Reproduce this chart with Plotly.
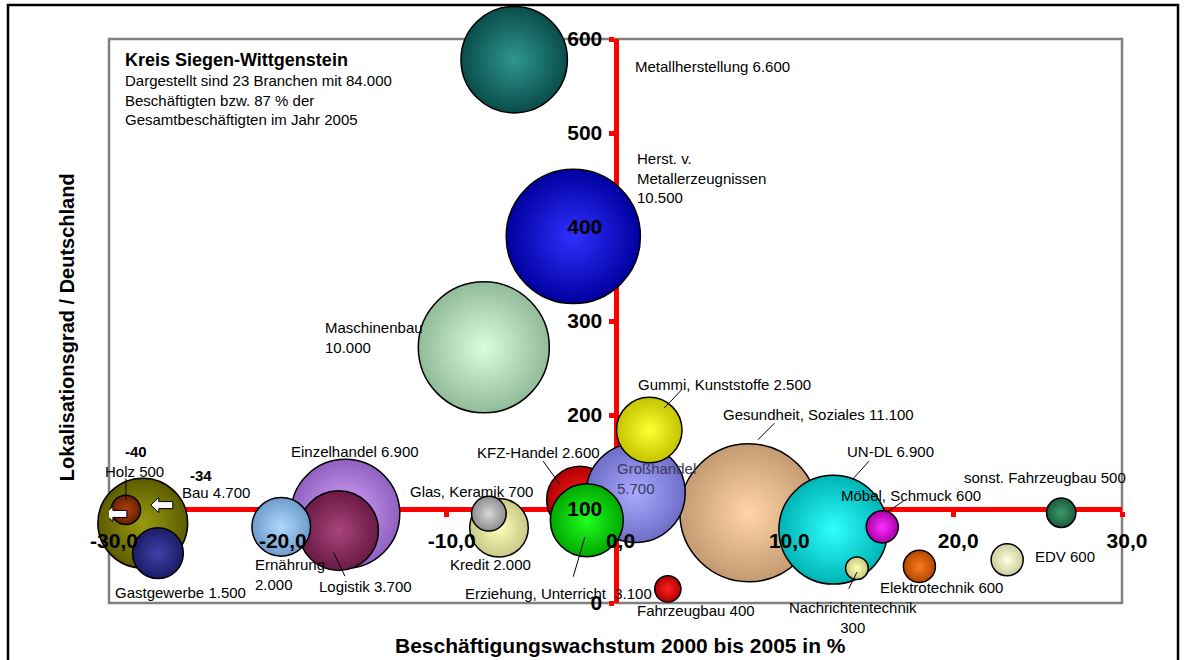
import plotly.graph_objects as go

# Branchen im Kreis Siegen-Wittgenstein (in Zeichenreihenfolge)
BRANCHEN = [
    "Maschinenbau", "Herst. v. Metallerzeugnissen", "Metallherstellung",
    "Gesundheit, Soziales", "KFZ-Handel", "Großhandel", "Gummi, Kunststoffe",
    "Erziehung, Unterricht", "UN-DL", "Möbel, Schmuck", "Nachrichtentechnik",
    "Fahrzeugbau", "Elektrotechnik", "EDV", "sonst. Fahrzeugbau",
    "Einzelhandel", "Logistik", "Ernährung", "Kredit", "Glas, Keramik",
    "Bau", "Holz", "Gastgewerbe",
]
# Beschäftigungswachstum 2000 bis 2005 in %
WACHSTUM = [
    -7.8, -2.5, -6.0,
    7.9, -2.1, 1.2, 2.0,
    -1.7, 12.9, 15.8, 14.3,
    3.1, 18.0, 23.2, 26.4,
    -16.0, -16.4, -19.8, -6.9, -7.5,
    -28.0, -29.0, -27.1,
]
# Lokalisationsgrad / Deutschland
LOKALISATION = [
    272, 390, 578,
    96, 110, 117, 184,
    88, 78, 81, 37,
    15, 39, 46, 96,
    95, 77, 81, 80, 95,
    85, 99, 53,
]
# Beschäftigte 2005
BESCHAEFTIGTE = [
    10000, 10500, 6600,
    11100, 2600, 5700, 2500,
    3100, 6900, 600, 300,
    400, 600, 600, 500,
    6900, 3700, 2000, 2000, 700,
    4700, 500, 1500,
]
# tatsächliches Wachstum der am linken Rand abgetragenen Branchen
AUSSERHALB = {"Bau": -34, "Holz": -40}

X_TICKS = [-30, -20, -10, 0, 10, 20, 30]
X_TICKTEXT = ["-30,0", "-20,0", "-10,0", "0,0", "10,0", "20,0", "30,0"]
Y_TICKS = [0, 100, 200, 300, 400, 500, 600]

# Kugelfarben: (Rand, Mitte)
FARBEN = {
    "Maschinenbau": ("#92bb9a", "#d8ffdc"),
    "Herst. v. Metallerzeugnissen": ("#0000a0", "#3030ff"),
    "Metallherstellung": ("#0a4d4a", "#2f9690"),
    "Gesundheit, Soziales": ("#c49a72", "#ffd6a8"),
    "KFZ-Handel": ("#b00000", "#ff2020"),
    "Großhandel": ("#6e6ec8", "#aaaaff"),
    "Gummi, Kunststoffe": ("#c4c400", "#ffff30"),
    "Erziehung, Unterricht": ("#00a800", "#20ff20"),
    "UN-DL": ("#00b4b4", "#30ffff"),
    "Möbel, Schmuck": ("#a800a8", "#ff30ff"),
    "Nachrichtentechnik": ("#c8c880", "#ffffb0"),
    "Fahrzeugbau": ("#b00000", "#ff2020"),
    "Elektrotechnik": ("#b04800", "#ff7a20"),
    "EDV": ("#cccca0", "#ffffdd"),
    "sonst. Fahrzeugbau": ("#1a5c3c", "#3c9a6a"),
    "Einzelhandel": ("#9060c0", "#d8a8ff"),
    "Logistik": ("#6a1a45", "#a8447a"),
    "Ernährung": ("#6e9ccc", "#b0d8ff"),
    "Kredit": ("#c8c888", "#ffffb8"),
    "Glas, Keramik": ("#8c8c8c", "#d8d8d8"),
    "Bau": ("#5c5c00", "#9a9a10"),
    "Holz": ("#6a2000", "#b04010"),
    "Gastgewerbe": ("#1c1c68", "#4040a8"),
}

# Beschriftung: (Vorlage, dx, dy in px relativ zur Kugelmitte, xanchor)
BESCHRIFTUNG = {
    "Maschinenbau": ("{n}<br>{e}", -161, -10, "left"),
    "Herst. v. Metallerzeugnissen": ("Herst. v.<br>Metallerzeugnissen<br>{e}", 62, -58, "left"),
    "Metallherstellung": ("{n} {e}", 119, 7, "left"),
    "Gesundheit, Soziales": ("{n} {e}", -28, -98, "left"),
    "KFZ-Handel": ("{n} {e}", -105, -47, "left"),
    "Großhandel": ("{n}<br>{e}", -21, -15, "left"),
    "Gummi, Kunststoffe": ("{n} {e}", -13, -46, "left"),
    "Erziehung, Unterricht": ("{n}\u00a0\u00a0{e}", -124, 73, "left"),
    "UN-DL": ("{n} {e}", 12, -78, "left"),
    "Möbel, Schmuck": ("{n} {e}", -43, -31, "left"),
    "Nachrichtentechnik": ("{n}<br>{e}", -4, 49, "center"),
    "Fahrzeugbau": ("{n} {e}", -33, 22, "left"),
    "Elektrotechnik": ("{n} {e}", -41, 21, "left"),
    "EDV": ("{n} {e}", 26, -3, "left"),
    "sonst. Fahrzeugbau": ("{n} {e}", -99, -35, "left"),
    "Einzelhandel": ("{n} {e}", -56, -62, "left"),
    "Logistik": ("{n} {e}", -22, 56, "left"),
    "Ernährung": ("{n}<br>{e}", -28, 48, "left"),
    "Kredit": ("{n} {e}", -51, 37, "left"),
    "Glas, Keramik": ("{n} {e}", -81, -22, "left"),
    "Bau": ("{n} {e}", 37, -31, "left"),
    "Holz": ("{n} {e}", -23, -38, "left"),
    "Gastgewerbe": ("{n} {e}", -45, 39, "left"),
}
# Führungslinien: Spitze (dx, dy) zur Kugelmitte, Ende (dx, dy) zur Spitze
LINIEN = {
    "Gummi, Kunststoffe": (15, -22, 19, -20),
    "Gesundheit, Soziales": (9, -73, 18, -18),
    "KFZ-Handel": (-20, -15, -18, -25),
    "Erziehung, Unterricht": (-2, 17, -12, 41),
    "UN-DL": (19, -50, 18, -20),
    "Möbel, Schmuck": (5, -15, 18, -12),
    "Nachrichtentechnik": (0, 4, -9, 18),
    "Logistik": (-5, 22, 12, 25),
    "Holz": (0, -10, 0, -23),
}
# Lage der Randwerte und Pfeile (px relativ zur Kugelmitte)
RANDWERT_POS = {"Bau": (45, -48), "Holz": (-3, -58)}
PFEIL_POS = {"Bau": (19, -18), "Holz": (-10, 4)}
PFEIL = [(-11, 0), (-3, 7.5), (-3, 3.5), (11, 3.5), (11, -3.5), (-3, -3.5), (-3, -7.5)]

FONT = "Liberation Sans, Arial, sans-serif"


def tsd(v):
    return f"{v:,}".replace(",", ".")


fig = go.Figure()
fig.add_trace(go.Scatter(
    x=WACHSTUM, y=LOKALISATION, mode="markers", cliponaxis=False,
    hoverinfo="skip", showlegend=False,
    marker=dict(
        size=BESCHAEFTIGTE, sizemode="area", sizeref=1.1656,
        color=[FARBEN[b][0] for b in BRANCHEN],
        gradient=dict(type="radial", color=[FARBEN[b][1] for b in BRANCHEN]),
        line=dict(color="black", width=1.5), opacity=1,
    ),
))
# leere Spur für die Beschriftungsachsen über den Kugeln
fig.add_trace(go.Scatter(x=[], y=[], xaxis="x2", yaxis="y2", showlegend=False))

ann = []
for i, b in enumerate(BRANCHEN):
    vorlage, dx, dy, anchor = BESCHRIFTUNG[b]
    farbe = "#3a3a5a" if b == "Großhandel" else "black"
    ann.append(dict(
        x=WACHSTUM[i], y=LOKALISATION[i], xshift=dx, yshift=-dy,
        text=vorlage.format(n=b, e=tsd(BESCHAEFTIGTE[i])),
        showarrow=False, xanchor=anchor, yanchor="middle", align=anchor,
        font=dict(family=FONT, size=15, color=farbe),
    ))
    if b in LINIEN:
        tx, ty, ex, ey = LINIEN[b]
        ann.append(dict(
            x=WACHSTUM[i], y=LOKALISATION[i], xshift=tx, yshift=-ty,
            text="", showarrow=True, arrowhead=0, arrowwidth=1,
            arrowcolor="black", ax=ex, ay=ey, standoff=0,
        ))
    if b in AUSSERHALB:
        dx, dy = RANDWERT_POS[b]
        ann.append(dict(
            x=WACHSTUM[i], y=LOKALISATION[i], xshift=dx, yshift=-dy,
            text=f"<b>{AUSSERHALB[b]}</b>", showarrow=False,
            xanchor="left", yanchor="middle",
            font=dict(family=FONT, size=15, color="black"),
        ))

shapes = [
    # grauer Rahmen der Zeichenfläche
    dict(type="rect", xref="paper", yref="paper", x0=0, x1=1, y0=0, y1=1,
         line=dict(color="#808080", width=2.5), layer="below"),
    # schwarzer Außenrahmen
    dict(type="rect", xref="paper", yref="paper", x0=-0.0997, x1=1.0553,
         y0=-0.3, y1=1.0603, line=dict(color="black", width=2.5)),
]
for b, (dx, dy) in PFEIL_POS.items():
    i = BRANCHEN.index(b)
    pts = [f"{px + dx},{py - dy}" for px, py in PFEIL]
    shapes.append(dict(
        type="path", xref="x", yref="y", xsizemode="pixel", ysizemode="pixel",
        xanchor=WACHSTUM[i], yanchor=LOKALISATION[i],
        path="M " + " L ".join(pts) + " Z",
        fillcolor="white", line=dict(color="black", width=1),
    ))

ann += [
    dict(xref="paper", yref="paper", x=0.0138, y=0.9628, xanchor="left",
         yanchor="middle", showarrow=False, text="<b>Kreis Siegen-Wittgenstein</b>",
         font=dict(family=FONT, size=18, color="black")),
    dict(xref="paper", yref="paper", x=0.0138, y=0.8918, xanchor="left",
         yanchor="middle", align="left", showarrow=False,
         text="Dargestellt sind 23 Branchen mit 84.000<br>Beschäftigten bzw. 87 % der"
              "<br>Gesamtbeschäftigten im Jahr 2005",
         font=dict(family=FONT, size=15, color="black")),
    dict(xref="paper", yref="paper", x=0.5054, y=-0.0745, showarrow=False,
         xanchor="center", yanchor="middle",
         text="<b>Beschäftigungswachstum 2000 bis 2005 in %</b>",
         font=dict(family=FONT, size=21, color="black")),
    dict(xref="paper", yref="paper", x=-0.0415, y=0.489, showarrow=False,
         xanchor="center", yanchor="middle",
         textangle=-90, text="<b>Lokalisationsgrad / Deutschland</b>",
         font=dict(family=FONT, size=20, color="black")),
]

achse = dict(showgrid=False, zeroline=False, fixedrange=True, anchor="free")
tickfont = dict(family=FONT, size=21, color="black", weight="bold")
unsichtbar = "rgba(0,0,0,0)"
fig.update_layout(
    width=1186, height=660,
    margin=dict(l=109, r=64, t=39, b=57),
    paper_bgcolor="white", plot_bgcolor="white",
    hovermode=False,
    xaxis=dict(**achse, range=[-30, 30], position=1 / 6, layer="below traces",
               showline=True, linecolor="red", linewidth=5,
               ticks="outside", ticklen=5, tickwidth=5, tickcolor="red",
               tickvals=X_TICKS, showticklabels=False),
    yaxis=dict(**achse, range=[0, 600], position=0.5, layer="below traces",
               showline=True, linecolor="red", linewidth=5,
               ticks="outside", ticklen=5, tickwidth=5, tickcolor="red",
               tickvals=Y_TICKS, showticklabels=False),
    xaxis2=dict(**achse, range=[-30, 30], position=1 / 6, overlaying="x",
                layer="above traces", showline=False,
                ticks="outside", ticklen=5, tickcolor=unsichtbar,
                tickvals=X_TICKS, ticktext=X_TICKTEXT, tickfont=tickfont,
                ticklabelstandoff=8, ticklabelshift=5),
    yaxis2=dict(**achse, range=[0, 600], position=0.5, overlaying="y",
                layer="above traces", showline=False,
                ticks="outside", ticklen=5, tickcolor=unsichtbar,
                tickvals=Y_TICKS, tickfont=tickfont, ticklabelstandoff=4),
    annotations=ann,
    shapes=shapes,
)

# Seitenrand des Browsers entfernen, damit die Grafik bündig bei (0, 0) sitzt
fig.write_html("out.html", config={"displayModeBar": False},
               post_script="document.body.style.margin = '0';")
